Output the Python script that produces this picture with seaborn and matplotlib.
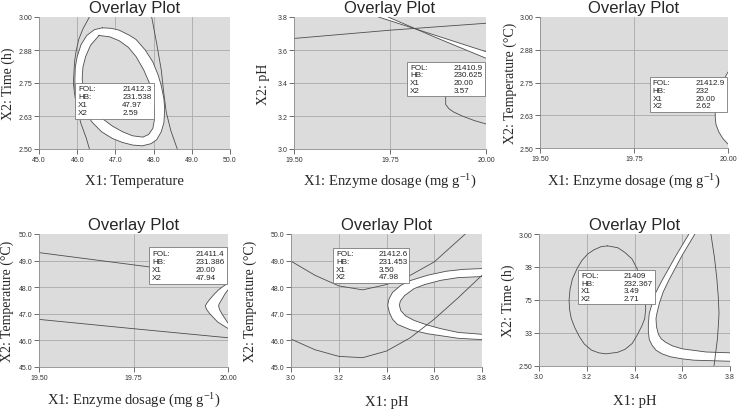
import matplotlib.pyplot as plt
import matplotlib.patches as mpatches
import pandas as pd
import seaborn as sns

# ---------------- values ----------------
box_keys = ["FOL:", "HB:", "X1", "X2"]

# panel 1: temperature vs time
p1_xticks = [45.0, 46.0, 47.0, 48.0, 49.0, 50.0]
p1_xlabels = ["45.0", "46.0", "47.0", "48.0", "49.0", "50.0"]
p1_yticks = [2.5, 2.625, 2.75, 2.875, 3.0]
p1_ylabels = ["2.50", "2.63", "2.75", "2.88", "3.00"]
p1_left = [(46.32, 3.0), (46.15, 2.955), (46.04, 2.915), (45.97, 2.87), (45.93, 2.83),
           (45.90, 2.75), (45.93, 2.71), (45.98, 2.665), (46.09, 2.60), (46.24, 2.54),
           (46.32, 2.50)]
p1_right = [(47.95, 3.0), (48.08, 2.90), (48.2, 2.80), (48.26, 2.72), (48.33, 2.64),
            (48.45, 2.57), (48.62, 2.5)]
p1_outer = [(46.66, 2.959), (46.9, 2.957), (47.1, 2.95), (47.35, 2.932), (47.54, 2.915),
            (47.78, 2.875), (47.98, 2.83), (48.12, 2.78), (48.2, 2.74), (48.27, 2.69),
            (48.29, 2.65), (48.27, 2.60), (48.2, 2.565), (48.08, 2.535), (47.93, 2.52),
            (47.7, 2.512), (47.45, 2.515), (47.18, 2.525), (46.92, 2.54), (46.64, 2.565),
            (46.4, 2.60), (46.17, 2.645), (46.0, 2.69), (45.94, 2.73), (45.94, 2.765),
            (45.95, 2.81), (46.0, 2.85), (46.1, 2.895), (46.25, 2.93), (46.45, 2.952),
            (46.66, 2.959)]
p1_inner = [(46.57, 2.93), (46.85, 2.925), (47.1, 2.91), (47.34, 2.885), (47.54, 2.85),
            (47.74, 2.80), (47.89, 2.75), (47.98, 2.70), (48.02, 2.65), (48.02, 2.61),
            (47.98, 2.578), (47.87, 2.555), (47.72, 2.545), (47.45, 2.55), (47.19, 2.565),
            (46.92, 2.587), (46.66, 2.615), (46.44, 2.65), (46.26, 2.69), (46.16, 2.73),
            (46.13, 2.765), (46.15, 2.81), (46.22, 2.85), (46.35, 2.893), (46.57, 2.93)]
p1_box = ["21412.3", "231.538", "47.97", "2.59"]

# panel 2: enzyme dosage vs pH
dose_ticks = [19.5, 19.75, 20.0]
dose_labels = ["19.50", "19.75", "20.00"]
p2_yticks = [3.0, 3.2, 3.4, 3.6, 3.8]
p2_ylabels = ["3.0", "3.2", "3.4", "3.6", "3.8"]
p2_line = [(19.5, 3.67), (19.75, 3.72), (20.0, 3.762)]
p2_upper = [(19.72, 3.8), (19.86, 3.695), (20.0, 3.59)]
p2_lower = [(19.745, 3.8), (19.87, 3.675), (20.0, 3.55)]
p2_curve = [(19.905, 3.42), (19.895, 3.33), (19.895, 3.27), (19.903, 3.245), (19.915, 3.225),
            (19.94, 3.198), (19.97, 3.172), (20.0, 3.152)]
p2_box = ["21410.9", "230.625", "20.00", "3.57"]

# panel 3: enzyme dosage vs temperature (time ticks as printed)
p3_arc = [(20.0, 2.79), (19.985, 2.75), (19.976, 2.72), (19.97, 2.69), (19.966, 2.65),
          (19.966, 2.62), (19.968, 2.59), (19.976, 2.56), (19.987, 2.535), (20.0, 2.515)]
p3_box = ["21412.9", "232", "20.00", "2.62"]

# panel 4: enzyme dosage vs temperature
temp_ticks = [45.0, 46.0, 47.0, 48.0, 49.0, 50.0]
temp_labels = ["45.0", "46.0", "47.0", "48.0", "49.0", "50.0"]
p4_upper = [(19.5, 49.30), (19.75, 48.84), (20.0, 48.38)]
p4_lower = [(19.5, 46.79), (19.75, 46.44), (20.0, 46.10)]
p4_outer = [(20.0, 48.15), (19.986, 48.02), (19.975, 47.9), (19.963, 47.73), (19.952, 47.55),
            (19.944, 47.4), (19.94, 47.3), (19.943, 47.17), (19.952, 47.0), (19.962, 46.85),
            (19.972, 46.7), (19.986, 46.57), (20.0, 46.45)]
p4_inner = [(20.0, 47.9), (19.992, 47.75), (19.984, 47.55), (19.977, 47.38), (19.975, 47.3),
            (19.978, 47.15), (19.986, 46.95), (19.993, 46.8), (20.0, 46.65)]
p4_box = ["21411.4", "231.386", "20.00", "47.94"]

# panel 5: pH vs temperature
ph_ticks = [3.0, 3.2, 3.4, 3.6, 3.8]
ph_labels = ["3.0", "3.2", "3.4", "3.6", "3.8"]
p5_top = [(3.0, 48.98), (3.1, 48.45), (3.2, 48.05), (3.3, 47.9), (3.4, 48.1), (3.5, 48.45),
          (3.6, 48.95), (3.73, 50.0)]
p5_bottom = [(3.0, 46.05), (3.1, 45.65), (3.2, 45.4), (3.3, 45.35), (3.4, 45.6), (3.5, 46.1),
             (3.6, 46.8), (3.7, 47.6), (3.8, 48.45)]
p5_outer = [(3.8, 48.7), (3.72, 48.67), (3.65, 48.6), (3.572, 48.45), (3.5, 48.25),
            (3.46, 48.07), (3.425, 47.8), (3.41, 47.55), (3.405, 47.32), (3.412, 47.05),
            (3.425, 46.8), (3.446, 46.6), (3.5, 46.4), (3.572, 46.25), (3.7, 46.08),
            (3.8, 46.03)]
p5_inner = [(3.8, 48.4), (3.7, 48.36), (3.628, 48.26), (3.56, 48.1), (3.516, 47.95),
            (3.475, 47.68), (3.458, 47.48), (3.454, 47.32), (3.46, 47.12), (3.48, 46.92),
            (3.516, 46.75), (3.57, 46.58), (3.628, 46.44), (3.7, 46.3), (3.8, 46.23)]
p5_box = ["21412.6", "231.453", "3.50", "47.98"]

# panel 6: pH vs time
p6_ylabels = ["2.50", "33", "75", "38", "3.00"]
p6_ellipse = [(3.287, 2.955), (3.33, 2.948), (3.36, 2.93), (3.39, 2.905), (3.41, 2.87),
              (3.43, 2.83), (3.44, 2.79), (3.447, 2.72), (3.443, 2.68), (3.43, 2.65),
              (3.41, 2.615), (3.39, 2.585), (3.36, 2.563), (3.33, 2.552), (3.28, 2.546),
              (3.25, 2.55), (3.22, 2.56), (3.19, 2.583), (3.17, 2.61), (3.15, 2.645),
              (3.135, 2.68), (3.128, 2.715), (3.126, 2.75), (3.13, 2.79), (3.14, 2.83),
              (3.16, 2.87), (3.18, 2.9), (3.205, 2.925), (3.23, 2.94), (3.26, 2.952),
              (3.287, 2.955)]
p6_right = [(3.72, 3.0), (3.735, 2.91), (3.745, 2.83), (3.751, 2.76), (3.754, 2.70),
            (3.751, 2.65), (3.747, 2.60), (3.74, 2.55), (3.733, 2.5)]
p6_outer = [(3.628, 3.0), (3.575, 2.92), (3.517, 2.827), (3.49, 2.78), (3.475, 2.74),
            (3.462, 2.70), (3.458, 2.66), (3.458, 2.63), (3.462, 2.6), (3.474, 2.578),
            (3.49, 2.56), (3.515, 2.546), (3.55, 2.535), (3.6, 2.527), (3.65, 2.522),
            (3.8, 2.518)]
p6_inner = [(3.653, 3.0), (3.60, 2.92), (3.545, 2.827), (3.52, 2.78), (3.505, 2.74),
            (3.494, 2.70), (3.49, 2.68), (3.492, 2.65), (3.50, 2.62), (3.512, 2.603),
            (3.53, 2.59), (3.56, 2.576), (3.6, 2.565), (3.7, 2.553), (3.8, 2.55)]
p6_box = ["21409", "232.367", "3.49", "2.71"]

# ---------------- style ----------------
BG = "#dcdcdc"
GRID = "#a9a9a9"
LINE = "#4d4d4d"

sns.set_style("white", {"axes.facecolor": BG})
plt.rcParams["font.family"] = ["Liberation Sans", "DejaVu Sans"]
plt.rcParams["mathtext.default"] = "regular"
SERIF = ["Liberation Serif", "DejaVu Serif"]

fig = plt.figure(figsize=(7.38, 4.10), dpi=100)
W, H = 738, 410


def make_ax(left, right, top, bottom):
    return fig.add_axes([left / W, (H - bottom) / H, (right - left) / W, (bottom - top) / H])


def draw_line(ax, pts):
    df = pd.DataFrame(pts, columns=["x", "y"])
    sns.lineplot(data=df, x="x", y="y", sort=False, estimator=None, color=LINE,
                 linewidth=0.6, ax=ax, zorder=2)


def fill_poly(ax, pts, color):
    ax.fill([p[0] for p in pts], [p[1] for p in pts], color=color, lw=0, zorder=1)


def band(ax, outer, inner):
    fill_poly(ax, outer + inner[::-1], "white")
    draw_line(ax, outer)
    draw_line(ax, inner)


def info_box(ax, x0, x1, y0, y1, values):
    ax.add_patch(mpatches.Rectangle((x0, y0), x1 - x0, y1 - y0, transform=ax.transAxes,
                                    fc="white", ec="#7a7a7a", lw=0.6, zorder=3))
    for i, (k, v) in enumerate(zip(box_keys, values)):
        y = y1 - (y1 - y0) * (0.16 + 0.22 * i)
        ax.text(x0 + 0.015, y, k, transform=ax.transAxes, fontsize=5.8, va="center",
                color="#222222", zorder=4)
        ax.text(x0 + (x1 - x0) * 0.6, y, v, transform=ax.transAxes, fontsize=5.8,
                va="center", color="#222222", zorder=4)


def setup(ax, xlim, ylim, xt, xl, yt, yl, xlabel, ylabel, wpx, hpx, xlab_off, ylab_off):
    ax.set_xlim(xlim)
    ax.set_ylim(ylim)
    ax.set_xticks(xt)
    ax.set_xticklabels(xl)
    ax.set_yticks(yt)
    ax.set_yticklabels(yl)
    ax.tick_params(axis="both", direction="out", length=3.5, width=0.6, color="#555555",
                   labelsize=5, labelcolor="#333333", pad=1.2, left=True, bottom=True)
    ax.set_axisbelow(True)
    ax.grid(True, color=GRID, lw=0.6)
    for lines in (ax.xaxis.get_gridlines(), ax.yaxis.get_gridlines()):
        lines[0].set_visible(False)
        lines[-1].set_visible(False)
    for s in ["top", "right"]:
        ax.spines[s].set_visible(False)
    for s in ["left", "bottom"]:
        ax.spines[s].set_color("#8a8a8a")
        ax.spines[s].set_linewidth(0.6)
    ax.set_xlabel(xlabel, family=SERIF, fontsize=10.5, va="center")
    ax.xaxis.set_label_coords(0.5, -xlab_off / hpx)
    ax.set_ylabel(ylabel, family=SERIF, fontsize=10, va="center")
    ax.yaxis.set_label_coords(-ylab_off / wpx, 0.5)
    ax.text(0.5, 1 + 9.8 / hpx, "Overlay Plot", transform=ax.transAxes, ha="center",
            va="center", fontsize=12)


dose_label = "X1: Enzyme dosage (mg g$^{-1}$)"

# panel 1
ax = make_ax(39, 230, 18, 150)
fill_poly(ax, p1_outer, "white")
fill_poly(ax, p1_inner, BG)
draw_line(ax, p1_outer)
draw_line(ax, p1_inner)
draw_line(ax, p1_left)
draw_line(ax, p1_right)
info_box(ax, 0.19, 0.60, 0.227, 0.50, p1_box)
setup(ax, (45, 50), (2.5, 3.0), p1_xticks, p1_xlabels, p1_yticks, p1_ylabels,
      "X1: Temperature", "X2: Time (h)", 191, 132, 31.7, 31)

# panel 2
ax = make_ax(294, 486, 18, 150)
draw_line(ax, p2_line)
band(ax, p2_upper, p2_lower)
draw_line(ax, p2_curve)
info_box(ax, 0.59, 0.995, 0.40, 0.66, p2_box)
setup(ax, (19.5, 20.0), (3.0, 3.8), dose_ticks, dose_labels, p2_yticks, p2_ylabels,
      dose_label, "X2: pH", 192, 132, 31.7, 31)

# panel 3
ax = make_ax(540, 728, 18, 149)
fill_poly(ax, p3_arc, "white")
draw_line(ax, p3_arc)
info_box(ax, 0.585, 0.993, 0.275, 0.54, p3_box)
setup(ax, (19.5, 20.0), (2.5, 3.0), dose_ticks, dose_labels, p1_yticks, p1_ylabels,
      dose_label, "X2: Temperature (°C)", 188, 131, 32.7, 30)

# panel 4
ax = make_ax(39, 228, 235, 368)
draw_line(ax, p4_upper)
draw_line(ax, p4_lower)
band(ax, p4_outer, p4_inner)
info_box(ax, 0.584, 0.994, 0.624, 0.90, p4_box)
setup(ax, (19.5, 20.0), (45, 50), dose_ticks, dose_labels, temp_ticks, temp_labels,
      dose_label, "X2: Temperature (°C)", 189, 133, 32.5, 32)

# panel 5
ax = make_ax(291, 482, 235, 368)
draw_line(ax, p5_top)
draw_line(ax, p5_bottom)
band(ax, p5_outer, p5_inner)
info_box(ax, 0.222, 0.619, 0.63, 0.895, p5_box)
setup(ax, (3.0, 3.8), (45, 50), ph_ticks, ph_labels, temp_ticks, temp_labels,
      "X1: pH", "X2: Temperature (°C)", 191, 133, 34.5, 41)

# panel 6
ax = make_ax(539, 730, 235, 367)
draw_line(ax, p6_ellipse)
band(ax, p6_outer, p6_inner)
draw_line(ax, p6_right)
info_box(ax, 0.206, 0.605, 0.466, 0.727, p6_box)
setup(ax, (3.0, 3.8), (2.5, 3.0), ph_ticks, ph_labels, p1_yticks, p6_ylabels,
      "X1: pH", "X2: Time (h)", 191, 132, 35, 31)

fig.savefig("out.png", dpi=100)
